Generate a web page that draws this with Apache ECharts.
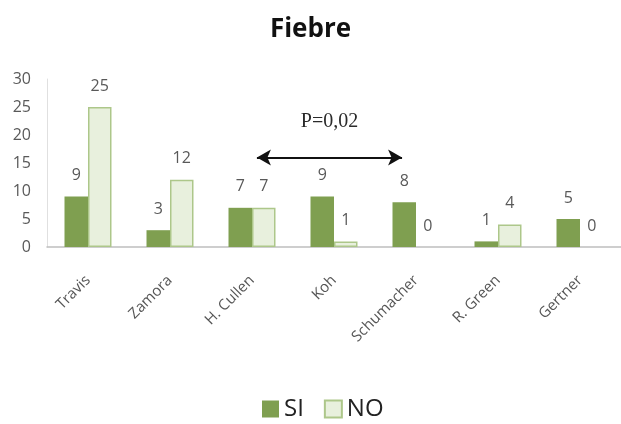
<!DOCTYPE html>
<html>
<head>
<meta charset="utf-8">
<style>
  html, body { margin: 0; padding: 0; background: #fff; }
  #chart { width: 621px; height: 424px; }
</style>
<script src="https://cdn.jsdelivr.net/npm/echarts@6/dist/echarts.min.js"></script>
</head>
<body>
<div id="chart"></div>
<script>
// Patients by surgeon with fever (SI) / without fever (NO)
const categories = ['Travis', 'Zamora', 'H. Cullen', 'Koh', 'Schumacher', 'R. Green', 'Gertner'];
const siValues = [9, 3, 7, 9, 8, 1, 5];
const noValues = [25, 12, 7, 1, 0, 4, 0];
const yTicks = [0, 5, 10, 15, 20, 25, 30];

// Comparison bracket between H. Cullen and Schumacher (category index units)
const pLabel = 'P=0,02';
const arrowFrom = [2.06, 16];
const arrowTo = [3.83, 16];

const chart = echarts.init(document.getElementById('chart'));

const labelStyle = {
  show: true,
  position: 'top',
  distance: 13,
  color: '#595959',
  fontSize: 16,
  fontFamily: 'Open Sans'
};

// Zero-height outlined bars would leave a stray border on the baseline
const noData = noValues.map(v => (v === 0
  ? { value: v, itemStyle: { borderWidth: 0 } }
  : v));

chart.setOption({
  animation: false,
  title: {
    text: 'Fiebre',
    left: 'center',
    top: 12,
    textStyle: { fontFamily: 'Open Sans', fontWeight: 'bold', fontSize: 26, color: '#111' }
  },
  legend: {
    bottom: -2,
    left: 257,
    itemWidth: 17,
    itemHeight: 17,
    itemGap: 20,
    icon: 'rect',
    textStyle: { fontFamily: 'Open Sans', fontSize: 24, color: '#222', padding: [0, 0, 0, 0] },
    data: ['SI', 'NO']
  },
  grid: { left: 47, top: 79, width: 577, bottom: 177 },
  xAxis: [
    {
      type: 'category',
      data: categories,
      axisLine: { lineStyle: { color: '#bfbfbf', width: 1.5 } },
      axisTick: { show: false },
      axisLabel: {
        rotate: 45,
        margin: 31,
        color: '#555',
        fontSize: 15,
        fontFamily: 'Open Sans'
      }
    },
    {
      type: 'value',
      min: -0.5,
      max: 6.5,
      show: false
    }
  ],
  yAxis: {
    type: 'value',
    min: yTicks[0],
    max: yTicks[yTicks.length - 1],
    interval: 5,
    axisLine: { show: true, onZero: false, lineStyle: { color: '#e0e0e0' } },
    axisTick: { show: false },
    splitLine: { show: false },
    axisLabel: { margin: 16, color: '#595959', fontSize: 16, fontFamily: 'Open Sans' }
  },
  series: [
    {
      name: 'SI',
      type: 'bar',
      data: siValues,
      barWidth: 23.5,
      barGap: '0%',
      itemStyle: { color: '#7f9f50' },
      label: labelStyle
    },
    {
      name: 'NO',
      type: 'bar',
      data: noData,
      barWidth: 23.5,
      itemStyle: { color: '#e8f0dd', borderColor: '#adc78a', borderWidth: 1.5 },
      label: labelStyle
    },
    {
      name: 'p',
      type: 'scatter',
      xAxisIndex: 1,
      data: [],
      silent: true,
      markLine: {
        silent: true,
        symbol: ['arrow', 'arrow'],
        symbolSize: [12, 14],
        lineStyle: { color: '#111', width: 2, type: 'solid' },
        label: {
          show: true,
          position: 'middle',
          formatter: pLabel,
          distance: 26,
          color: '#2a2a2a',
          fontFamily: 'Liberation Serif',
          fontSize: 20
        },
        data: [[{ coord: arrowFrom }, { coord: arrowTo }]]
      }
    }
  ]
});
</script>
</body>
</html>
